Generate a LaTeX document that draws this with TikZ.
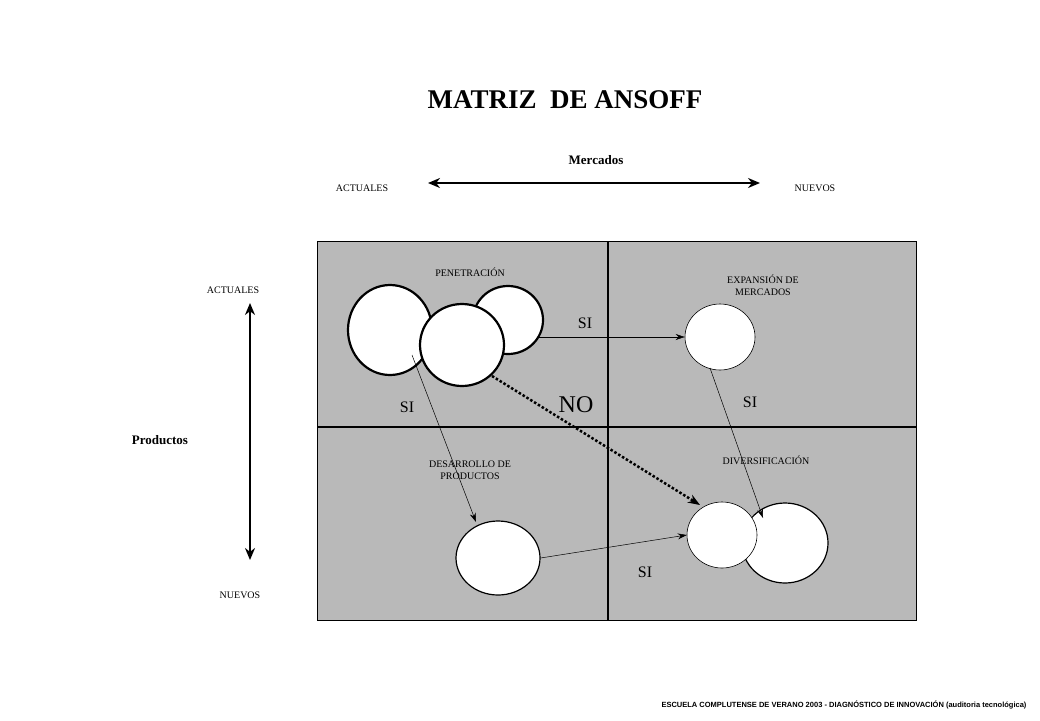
\documentclass[tikz,border=0pt]{standalone}
\usepackage{fontspec}
\setmainfont{Liberation Serif}
\newfontfamily\footfont{Liberation Sans}
\usetikzlibrary{arrows.meta,shapes.geometric}
\begin{document}
\begin{tikzpicture}[x=1pt,y=-1pt,
  lbl/.style={font=\fontsize{10}{12}\selectfont,align=center},
  si/.style={font=\fontsize{16}{18}\selectfont},
  bigc/.style={draw,line width=2.2pt,fill=white},
  smc/.style={draw,line width=0.6pt,fill=white},
  conn/.style={-{Stealth[length=9pt,width=6pt]},line width=0.5pt}]
\useasboundingbox (0,0) rectangle (1040,720);
\fill[gray!55!white,draw=black,line width=0.5pt] (317,241) rectangle (916,620);
\draw[line width=1.5pt] (608,241) -- (608,620);
\draw[line width=1.5pt] (317,427) -- (916,427);
\node[font=\bfseries\fontsize{27}{30}\selectfont] (title) at (565,100) {MATRIZ~ DE ANSOFF};
\node[font=\bfseries\fontsize{13}{15}\selectfont] (merc) at (596,160) {Mercados};
\node[lbl] (ma) at (362,188) {ACTUALES};
\node[lbl] (mn) at (815,188) {NUEVOS};
\coordinate (h1) at (428,183); \coordinate (h2) at (760,183);
\draw[{Stealth[length=12pt,width=10pt]}-{Stealth[length=12pt,width=10pt]},line width=2pt] (h1) -- (h2);
\node[lbl] (pa) at (233,290) {ACTUALES};
\node[lbl] (pn) at (240,595) {NUEVOS};
\node[font=\bfseries\fontsize{13}{15}\selectfont] (prod) at (160,440) {Productos};
\coordinate (v1) at (250,303); \coordinate (v2) at (250,560);
\draw[{Stealth[length=12pt,width=10pt]}-{Stealth[length=12pt,width=10pt]},line width=2pt] (v1) -- (v2);
\node[lbl] (pen) at (470,272) {PENETRACIÓN};
\node[lbl] (exp) at (763,285) {EXPANSIÓN DE\\MERCADOS};
\node[lbl] (des) at (470,470) {DESARROLLO DE\\PRODUCTOS};
\node[lbl] (div) at (766,460) {DIVERSIFICACIÓN};
\draw[bigc] (390,330) ellipse (42 and 45);
\draw[bigc] (508,320) ellipse (35 and 34);
\node[bigc,ellipse,minimum width=84pt,minimum height=82pt,inner sep=0] (c3) at (462,345) {};
\node[smc,ellipse,minimum width=70pt,minimum height=66pt,inner sep=0] (ce) at (720,337) {};
\node[bigc,line width=1.2pt,ellipse,minimum width=84pt,minimum height=74pt,inner sep=0] (cd) at (498,558) {};
\draw[bigc,line width=1.2pt] (785,543) ellipse (43 and 40);
\node[smc,ellipse,minimum width=70pt,minimum height=66pt,inner sep=0] (cv) at (722,535) {};
\coordinate (s1) at (538,337);
\coordinate (s2) at (412,355);
\coordinate (s3) at (492,376);
\coordinate (t3) at (700,505);
\draw[conn] (s1) -- (ce.west);
\draw[conn] (s2) -- (476,522);
\draw[-{Stealth[length=12pt,width=9pt]},line width=2.5pt,dotted] (s3) -- (t3);
\draw[conn] (710,368) -- (763,518);
\draw[conn] (cd.east) -- (cv.west);
\node[si] (si1) at (585,323) {SI};
\node[si] (si2) at (407,407) {SI};
\node[font=\fontsize{24}{26}\selectfont] (no) at (576,405) {NO};
\node[si] (si3) at (750,402) {SI};
\node[si] (si4) at (645,572) {SI};
\node[font=\footfont\bfseries\fontsize{7.5}{9}\selectfont,anchor=east] (foot) at (1030,705) {ESCUELA COMPLUTENSE DE VERANO 2003 - DIAGNÓSTICO DE INNOVACIÓN (auditoria tecnológica)};
\end{tikzpicture}
\end{document}
